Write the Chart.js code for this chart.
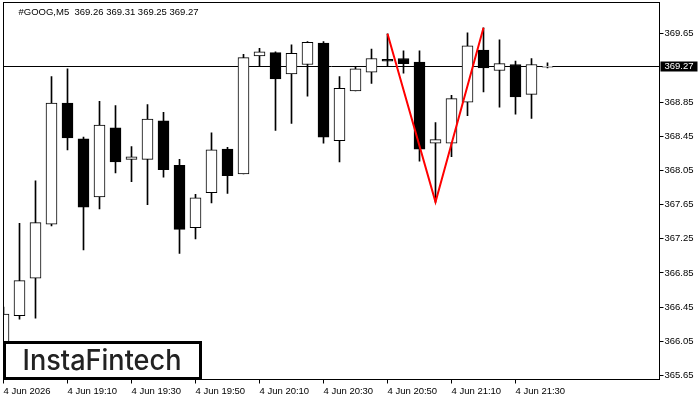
<!DOCTYPE html>
<html>
<head>
<meta charset="utf-8">
<script src="https://cdn.jsdelivr.net/npm/chart.js@4.4.0/dist/chart.umd.min.js"></script>
<style>
  html, body { margin: 0; padding: 0; background: #fff; }
  #wrap { width: 700px; height: 400px; }
</style>
</head>
<body>
<div id="wrap"><canvas id="myChart" width="700" height="400"></canvas></div>
<script>
const symbol = '#GOOG,M5';
// M5 bars, 4 Jun 2026
const times = ['18:50','18:55','19:00','19:05','19:10','19:15','19:20','19:25','19:30','19:35',
               '19:40','19:45','19:50','19:55','20:00','20:05','20:10','20:15','20:20','20:25',
               '20:30','20:35','20:40','20:45','20:50','20:55','21:00','21:05','21:10','21:15',
               '21:20','21:25','21:30','21:35','21:40'];
const opens  = [365.90, 366.35, 366.79, 367.42, 368.84, 368.42, 367.74, 368.55, 368.18, 368.18,
                368.63, 368.11, 367.38, 367.79, 368.30, 368.01, 369.39, 369.43, 369.18, 369.29,
                369.54, 368.40, 368.98, 369.20, 369.35, 369.36, 369.32, 368.37, 368.37, 368.85,
                369.46, 369.22, 369.29, 368.94, 369.26];
const highs  = [366.45, 367.43, 367.93, 369.15, 369.24, 368.44, 368.86, 368.81, 368.33, 368.82,
                368.73, 368.18, 367.77, 368.49, 368.32, 369.41, 369.48, 369.44, 369.52, 369.56,
                369.56, 369.15, 369.26, 369.47, 369.65, 369.45, 369.45, 368.61, 368.93, 369.66,
                369.72, 369.58, 369.33, 369.36, 369.31];
const lows   = [365.80, 366.31, 366.32, 367.40, 368.29, 367.12, 367.60, 368.02, 367.92, 367.65,
                367.97, 367.08, 367.25, 367.67, 367.78, 368.01, 369.27, 368.52, 368.60, 368.92,
                368.37, 368.15, 368.98, 369.07, 369.27, 369.19, 368.16, 367.68, 368.21, 368.69,
                368.97, 368.79, 368.71, 368.66, 369.25];
const closes = [366.37, 366.76, 367.44, 368.84, 368.43, 367.62, 368.58, 368.15, 368.21, 368.65,
                368.06, 367.36, 367.73, 368.29, 367.99, 369.37, 369.44, 369.12, 369.42, 369.55,
                368.44, 369.01, 369.24, 369.36, 369.33, 369.30, 368.30, 368.41, 368.89, 369.51,
                369.25, 369.30, 368.91, 369.29, 369.27];

// double top pattern (red)
const patternIdx  = [24, 27, 30];
const patternVals = [369.65, 367.68, 369.72];

const tickLabels = ['4 Jun 2026','4 Jun 19:10','4 Jun 19:30','4 Jun 19:50','4 Jun 20:10',
                    '4 Jun 20:30','4 Jun 20:50','4 Jun 21:10','4 Jun 21:30'];
const tickEvery = 4;
const yTicks = [369.65, 368.85, 368.45, 368.05, 367.65, 367.25, 366.85, 366.45, 366.05, 365.65];
const yMin = 365.603, yMax = 370.016;
const emptySlots = 7;

const lastPrice = closes[closes.length - 1];
const labels = times.concat(Array(emptySlots).fill(''));
const patternData = labels.map(() => null);
patternIdx.forEach((idx, k) => { patternData[idx] = patternVals[k]; });

const FONT = { family: 'Liberation Sans', size: 9.5 };

const mt4Plugin = {
  id: 'mt4',
  beforeDatasetsDraw(chart) {
    const { ctx, chartArea: a, scales: { y } } = chart;
    const py = Math.round(y.getPixelForValue(lastPrice)) + 0.5;
    ctx.save();
    ctx.strokeStyle = '#000';
    ctx.lineWidth = 1;
    ctx.beginPath();
    ctx.moveTo(a.left, py);
    ctx.lineTo(a.right, py);
    ctx.stroke();
    ctx.restore();
  },
  afterDraw(chart) {
    const { ctx, chartArea: a, scales: { y } } = chart;
    ctx.save();
    // frame
    ctx.strokeStyle = '#000';
    ctx.lineWidth = 1;
    ctx.strokeRect(a.left, a.top, a.right - a.left, a.bottom - a.top);

    // symbol + last OHLC
    const n = closes.length - 1;
    ctx.fillStyle = '#000';
    ctx.font = '9.5px "Liberation Sans"';
    ctx.textBaseline = 'top';
    ctx.textAlign = 'left';
    ctx.fillText(symbol + '  ' + [opens[n], highs[n], lows[n], closes[n]].map(v => v.toFixed(2)).join(' '),
                 a.left + 15, a.top + 5);

    // current price label
    const py = Math.round(y.getPixelForValue(lastPrice)) + 0.5;
    ctx.fillRect(a.right + 1, py - 5, 37, 10);
    ctx.fillStyle = '#fff';
    ctx.textBaseline = 'middle';
    ctx.fillText(lastPrice.toFixed(2), a.right + 5, py);

    // logo
    ctx.fillStyle = '#fff';
    ctx.fillRect(a.left, a.bottom - 38, 198, 38);
    ctx.strokeStyle = '#000';
    ctx.lineWidth = 3;
    ctx.strokeRect(a.left + 1, a.bottom - 37, 196, 36);
    ctx.fillStyle = '#222';
    ctx.font = '500 28px Inter';
    const w = ctx.measureText('InstaFintech').width;
    ctx.textBaseline = 'alphabetic';
    ctx.translate(a.left + 19, a.bottom - 10);
    ctx.scale(159 / w, 1);
    ctx.fillText('InstaFintech', 0, 0);
    ctx.restore();
  }
};

const ctx = document.getElementById('myChart');
const myChart = new Chart(ctx, {
  type: 'bar',
  data: {
    labels: labels,
    datasets: [
      {
        type: 'line',
        data: patternData,
        borderColor: '#ff0000',
        borderWidth: 2,
        pointRadius: 0,
        spanGaps: true,
        order: 0
      },
      {
        data: opens.map((o, i) => [o, closes[i]]),
        backgroundColor: opens.map((o, i) => closes[i] >= o ? '#ffffff' : '#000000'),
        borderColor: '#000',
        borderWidth: 1,
        borderSkipped: false,
        barThickness: 11,
        grouped: false,
        order: 1
      },
      {
        data: lows.map((l, i) => [l, highs[i]]),
        backgroundColor: '#000',
        borderWidth: 0,
        barThickness: 1,
        grouped: false,
        order: 2
      }
    ]
  },
  plugins: [mt4Plugin],
  options: {
    responsive: false,
    animation: false,
    layout: { padding: { left: 3.5, top: 2.5, right: 0, bottom: 0 } },
    plugins: { legend: { display: false }, tooltip: { enabled: false } },
    scales: {
      x: {
        offset: false,
        afterFit: s => { s.height = 20.5; s.paddingLeft = 0; s.paddingRight = 0; },
        ticks: {
          autoSkip: false, maxRotation: 0, minRotation: 0, align: 'start',
          padding: 2, color: '#000', font: FONT,
          callback: (v, i) => (i % tickEvery === 0 && i / tickEvery < tickLabels.length) ? tickLabels[i / tickEvery] : ''
        },
        grid: {
          offset: false, drawOnChartArea: false, tickLength: 4,
          color: c => (c.index % tickEvery === 0 && c.index / tickEvery < tickLabels.length) ? '#000' : 'rgba(0,0,0,0)'
        },
        border: { color: '#000' }
      },
      y: {
        position: 'right',
        min: yMin,
        max: yMax,
        afterBuildTicks: s => { s.ticks = yTicks.map(v => ({ value: v })); },
        afterFit: s => { s.width = 40.5; s.paddingTop = 0; s.paddingBottom = 0; },
        ticks: { callback: v => v.toFixed(2), color: '#000', font: FONT, padding: 1 },
        grid: { drawOnChartArea: false, tickLength: 4, color: '#000' },
        border: { color: '#000' }
      }
    }
  }
});
</script>
</body>
</html>
